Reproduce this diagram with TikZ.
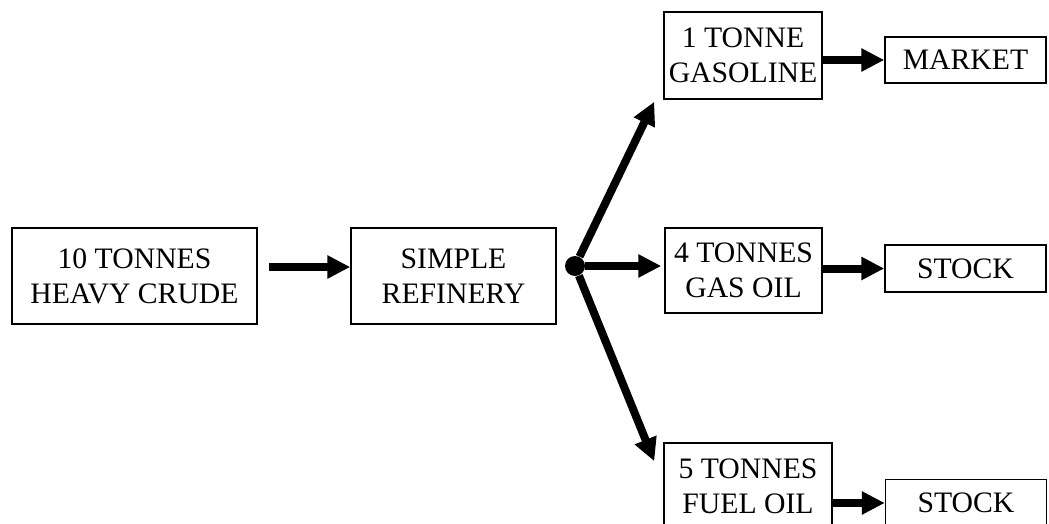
\documentclass[tikz,border=0pt]{standalone}
\usepackage{fontspec}
\setmainfont{Liberation Serif}
\usepackage{tikz}
\usetikzlibrary{arrows.meta,positioning}
\tikzset{unit/.style={rectangle,draw=black,line width=0.75pt,align=center,inner sep=0pt,
			font=\fontsize{14.85}{17.5}\selectfont},
		flow/.style={-{Triangle[length=11.5pt,width=11pt]},line width=4pt},
		junction/.style={circle,fill=black,inner sep=0pt,minimum size=10pt}}

\begin{document}
\begin{tikzpicture}[x=0.5pt,y=-0.5pt]
		\clip (0,0) rectangle (1049,524);
		\node[unit,minimum width=122.5pt,minimum height=48pt] (crude) at (134.5,276) {10 TONNES\\HEAVY CRUDE};
		\node[unit,minimum width=102.5pt,minimum height=48pt] (refinery) at (453.5,276) {SIMPLE\\REFINERY};
		\node[junction] (split) at (575,266) {};
		\node[unit,minimum width=79pt,minimum height=43.5pt] (gasoline) at (743,55.5) {1 TONNE\\GASOLINE};
		\node[unit,minimum width=78.5pt,minimum height=42.5pt] (gasoil) at (743.5,270.5) {4 TONNES\\GAS OIL};
		\node[unit,minimum width=84pt,minimum height=43.5pt] (fueloil) at (748,486.5) {5 TONNES\\FUEL OIL};
		\node[unit,minimum width=80.5pt,minimum height=23pt] (market) at (965.5,60) {MARKET};
		\node[unit,minimum width=80.5pt,minimum height=23.5pt] (stock) at (965.5,268.5) {STOCK};
		\node[unit,minimum width=80.5pt,minimum height=23.5pt] (stock2) at (966,503) {STOCK};

		\draw[flow,shorten <=5.5pt] ([yshift=4.5pt]crude.east) -- ([yshift=4.5pt]refinery.west);
		\draw[flow] (split) -- ([xshift=-4.5pt,yshift=-1pt]gasoline.south west);
		\draw[flow] (split) -- ([xshift=-1.5pt]split -| gasoil.west);
		\draw[flow] (split) -- ([xshift=-4.5pt,yshift=-9.5pt]fueloil.north west);
%		outputs
		\draw[flow] (gasoline.east |- market.west) -- (market.west);
		\draw[flow] (gasoil.east |- stock.west) -- (stock.west);
		\draw[flow] (fueloil.east |- stock2.west) -- (stock2.west);
	\end{tikzpicture}
\end{document}
